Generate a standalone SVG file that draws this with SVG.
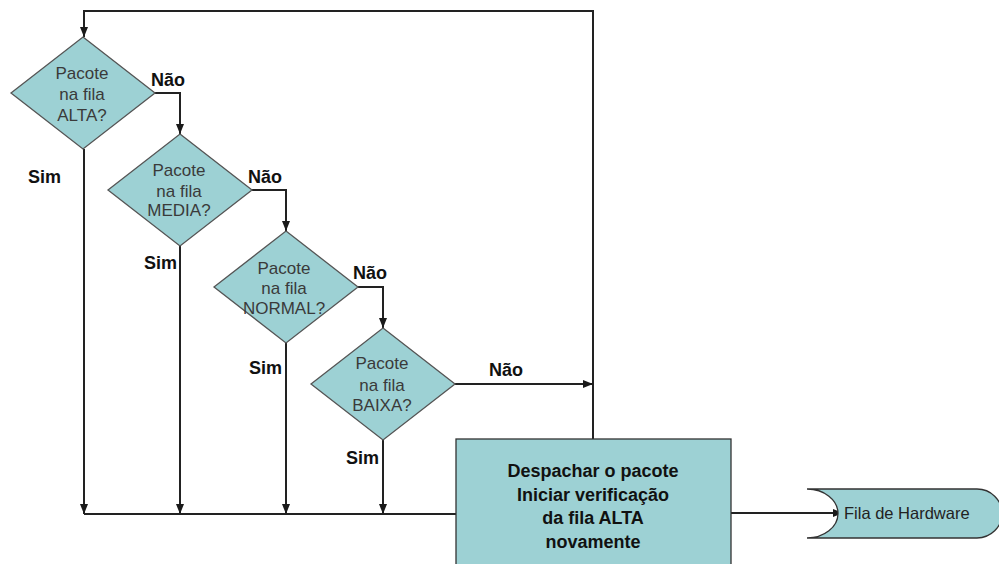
<svg xmlns="http://www.w3.org/2000/svg" width="999" height="564" viewBox="0 0 999 564">
  <defs>
    <marker id="arrow" markerUnits="userSpaceOnUse" markerWidth="10" markerHeight="10" refX="10" refY="5" orient="auto">
      <path d="M0,1 L10,5 L0,9 Z" fill="#1a1a1a"/>
    </marker>
    <style>
      .dec { fill: #9dd1d4; stroke: #555; stroke-width: 1.3; }
      .box { fill: #9dd1d4; stroke: #333; stroke-width: 1.3; }
      .conn { fill: none; stroke: #222; stroke-width: 2; }
      .arr { marker-end: url(#arrow); }
      .q { font-family: "Liberation Sans", Arial, sans-serif; font-size: 17px; fill: #3a3a3a; text-anchor: middle; }
      .lbl { font-family: "Liberation Sans", Arial, sans-serif; font-size: 18px; font-weight: bold; fill: #111; }
      .act { font-family: "Liberation Sans", Arial, sans-serif; font-size: 18px; font-weight: bold; fill: #111; text-anchor: middle; }
      .hw { font-family: "Liberation Sans", Arial, sans-serif; font-size: 16.5px; fill: #222; }
    </style>
  </defs>
  <rect width="999" height="564" fill="#fff"/>

  <!-- connectors -->
  <g id="connectors">
    <!-- loop back to the first decision -->
    <path class="conn arr" d="M593,439 V11 H84 V37"/>
    <!-- "Não" branches -->
    <path class="conn arr" d="M155,93 H180 V134"/>
    <path class="conn arr" d="M252,190 H286 V231"/>
    <path class="conn arr" d="M358,287 H383 V328"/>
    <path class="conn arr" d="M455,384 H593"/>
    <!-- "Sim" branches -->
    <path class="conn arr" d="M84,149 V514"/>
    <path class="conn arr" d="M180,246 V514"/>
    <path class="conn arr" d="M286,343 V514"/>
    <path class="conn arr" d="M383,440 V514"/>
    <path class="conn" d="M84,514 H457"/>
    <!-- to hardware queue -->
    <path class="conn arr" d="M731,513 H843"/>
  </g>

  <g id="q-alta">
    <polygon class="dec" points="83,37 155,93 83,149 11,93"/>
    <text class="q" x="82" y="79">Pacote</text>
    <text class="q" x="82" y="100">na fila</text>
    <text class="q" x="82" y="121">ALTA?</text>
  </g>
  <g id="q-media">
    <polygon class="dec" points="180,134 252,190 180,246 108,190"/>
    <text class="q" x="179" y="176">Pacote</text>
    <text class="q" x="179" y="197">na fila</text>
    <text class="q" x="179" y="216">MEDIA?</text>
  </g>
  <g id="q-normal">
    <polygon class="dec" points="286,231 358,287 286,343 214,287"/>
    <text class="q" x="284" y="274">Pacote</text>
    <text class="q" x="284" y="294">na fila</text>
    <text class="q" x="284" y="314">NORMAL?</text>
  </g>
  <g id="q-baixa">
    <polygon class="dec" points="383,328 455,384 383,440 311,384"/>
    <text class="q" x="382" y="369">Pacote</text>
    <text class="q" x="382" y="391">na fila</text>
    <text class="q" x="382" y="411">BAIXA?</text>
  </g>

  <g id="labels">
    <text class="lbl" x="151" y="86">Não</text>
    <text class="lbl" x="248" y="183">Não</text>
    <text class="lbl" x="353" y="279">Não</text>
    <text class="lbl" x="489" y="376">Não</text>
    <text class="lbl" x="28" y="183">Sim</text>
    <text class="lbl" x="144" y="269">Sim</text>
    <text class="lbl" x="249" y="374">Sim</text>
    <text class="lbl" x="346" y="464">Sim</text>
  </g>

  <g id="despachar">
    <rect class="box" x="456" y="439" width="275" height="130"/>
    <text class="act" x="593" y="477">Despachar o pacote</text>
    <text class="act" x="593" y="501">Iniciar verificação</text>
    <text class="act" x="593" y="524">da fila ALTA</text>
    <text class="act" x="593" y="548">novamente</text>
  </g>

  <g id="fila-hardware">
    <path class="box" d="M807,489 H977 A25,24.5 0 0 1 977,538 H807 A31,24.5 0 0 0 807,489 Z"/>
    <text class="hw" x="844" y="519">Fila de Hardware</text>
  </g>
</svg>
